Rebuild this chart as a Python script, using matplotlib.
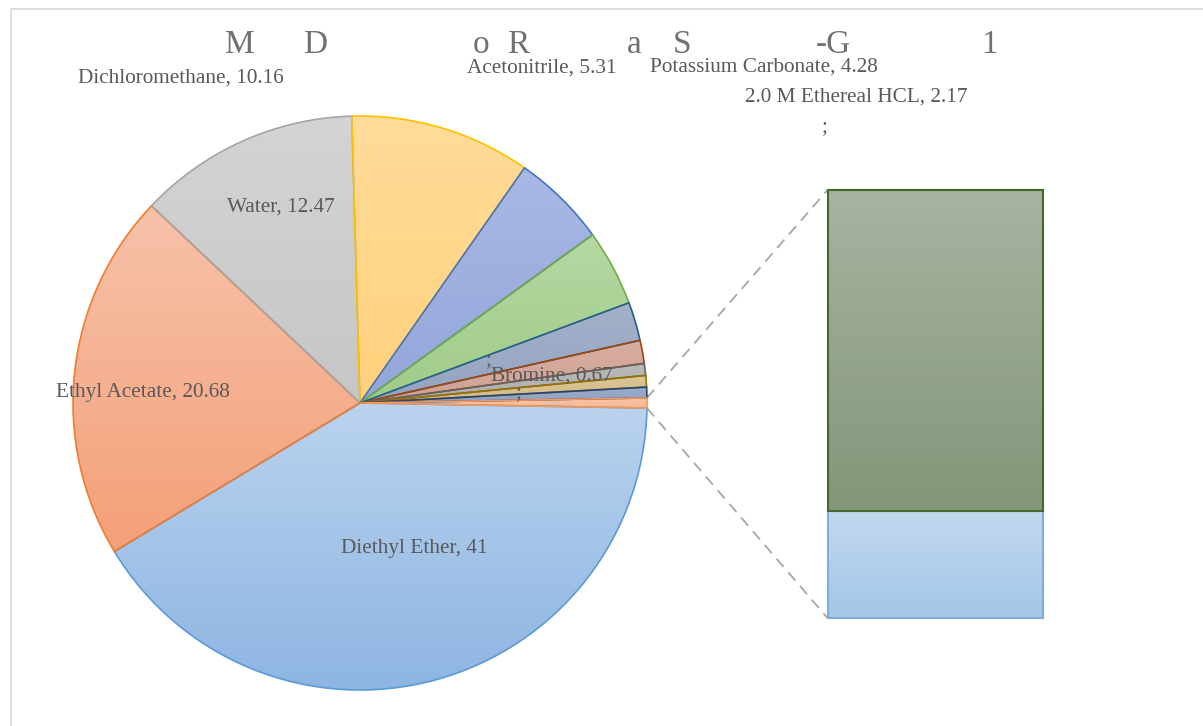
import numpy as np
import matplotlib
matplotlib.use("Agg")
import matplotlib.pyplot as plt
from matplotlib.colors import LinearSegmentedColormap

# ---- data -------------------------------------------------------------
# Primary pie, listed clockwise starting just after the aggregated slice
pie_names = ["Diethyl Ether", "Ethyl Acetate", "Water", "Dichloromethane",
             "Acetonitrile", "Potassium Carbonate", "2.0 M Ethereal HCL",
             "", "Bromine", "", ""]
pie_values = [41, 20.68, 12.47, 10.16, 5.31, 4.28, 2.17, 1.30, 0.67, 0.65, 0.60]

# Secondary stacked bar (bottom segment first)
bar_values = [0.14, 0.42]

# Title glyphs as they are rendered
title_glyphs = ["M", "D", "o", "R", "a", "S", "-G", "1"]

# ---- styling ----------------------------------------------------------
W, H = 1203, 726
edge_cols = ["#5B9BD5", "#ED7D31", "#A5A5A5", "#FFC000", "#4472C4", "#70AD47",
             "#255E91", "#9E480E", "#636363", "#997300", "#264478", "#F1975A"]
top_cols = ["#BAD3EE", "#F7C2AA", "#D4D4D4", "#FFDC9A", "#A9B8E5", "#B5D8A3",
            "#A3B1CA", "#D8AEA1", "#BABABA", "#DBC597", "#9DACCB", "#F9C6AA"]
bot_cols = ["#8DB4E2", "#F4A078", "#C6C6C6", "#FFD17C", "#93A6DB", "#A0CB88",
            "#94A4C1", "#CFA193", "#ADADAD", "#D2BA80", "#8EA0C3", "#F7B794"]
bar_edge = ["#7CAFDD", "#43682B"]
bar_top = ["#C2D8EF", "#A8B3A0"]
bar_bot = ["#A4C6E8", "#839679"]

label_color = "#595959"
serif = ["Liberation Serif", "DejaVu Serif"]
label_size = 15.3

fig = plt.figure(figsize=(W / 100, H / 100), dpi=100)
ax = fig.add_axes([0, 0, 1, 1])

center = (360, H - 403)
radius = 287

other_total = sum(bar_values)
values = pie_values + [other_total]
total = sum(values)
start = -(other_total / 2) / total * 360

wedges, _ = ax.pie(values, startangle=start, counterclock=False,
                   center=center, radius=radius, frame=True,
                   wedgeprops=dict(linewidth=1.2))


def gradient_fill(patch, xs, ys, c_top, c_bot, z):
    cmap = LinearSegmentedColormap.from_list("g", [c_bot, c_top])
    img = np.linspace(0, 1, 256).reshape(-1, 1)
    im = ax.imshow(img, extent=(min(xs), max(xs), min(ys), max(ys)),
                   origin="lower", cmap=cmap, aspect="auto",
                   interpolation="bilinear", zorder=z)
    im.set_clip_path(patch)


for w, ec, ct, cb in zip(wedges, edge_cols, top_cols, bot_cols):
    v = w.get_path().vertices
    w.set_edgecolor(ec)
    w.set_facecolor("none")
    w.set_zorder(2)
    gradient_fill(w, v[:, 0], v[:, 1], ct, cb, 1)

# Secondary bar
bar_x, bar_w = 935, 215
bar_bottom = H - 618
scale = 428 / other_total
bottoms = [bar_bottom + scale * sum(bar_values[:i]) for i in range(len(bar_values))]
bars = ax.bar([bar_x] * len(bar_values), [v * scale for v in bar_values],
              bottom=bottoms, width=bar_w, linewidth=1.5, zorder=2)
for b, ec, ct, cb in zip(bars, bar_edge, bar_top, bar_bot):
    b.set_edgecolor(ec)
    b.set_facecolor("none")
    x0, y0 = b.get_x(), b.get_y()
    gradient_fill(b, [x0, x0 + b.get_width()], [y0, y0 + b.get_height()], ct, cb, 1)

# Connector lines from the aggregated slice to the bar
ow = wedges[-1]
left = bar_x - bar_w / 2
bar_top_y = bottoms[-1] + bar_values[-1] * scale
for ang, ty in ((ow.theta2, bar_top_y), (ow.theta1, bar_bottom)):
    px = center[0] + radius * np.cos(np.radians(ang))
    py = center[1] + radius * np.sin(np.radians(ang))
    ax.plot([px, left], [py, ty], color="#A6A6A6", lw=1.3,
            linestyle=(0, (6, 4)), zorder=1.5)

# Data labels
def lab(i):
    return f"{pie_names[i]}, {pie_values[i]:g}"

label_spots = {
    0: (414, 549), 1: (143, 392), 2: (281, 207), 3: (181, 78),
    4: (542, 68), 5: (764, 67), 6: (856, 97), 8: (552, 376),
}
for i, (x, y) in label_spots.items():
    ax.text(x, H - y, lab(i), ha="center", va="center", fontsize=label_size,
            color=label_color, family=serif, zorder=5)

for (x, y) in [(489, 360), (519, 393), (825, 127)]:
    ax.text(x, H - y, ";", ha="center", va="center", fontsize=label_size,
            color=label_color, family=serif, zorder=5)

# Title
title_x = [240, 315, 481, 518, 634, 682, 833, 989]
for g, x in zip(title_glyphs, title_x):
    ax.text(x, H - 53, g, ha="center", va="baseline", fontsize=24,
            color="#707070", family=serif)

# Chart-area frame
ax.plot([11, 11, W + 5], [-5, H - 9, H - 9], color="#D9D9D9", lw=1.2, zorder=0)

ax.set_xlim(0, W)
ax.set_ylim(0, H)
ax.set_axis_off()
fig.savefig("out.png", dpi=100)
